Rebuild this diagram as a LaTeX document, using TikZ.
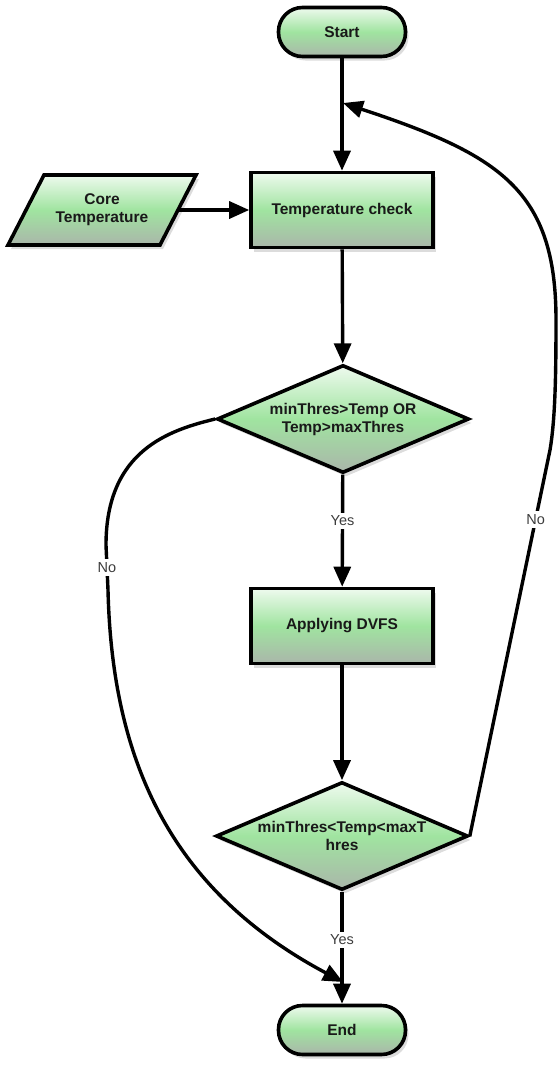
\documentclass[tikz,border=0pt]{standalone}
\usepackage{fontspec}
\setmainfont{Liberation Sans}
\usetikzlibrary{shapes.geometric,arrows.meta,shadows}
\definecolor{shTop}{RGB}{238,250,238}
\definecolor{shMid}{RGB}{160,228,160}
\definecolor{shBot}{RGB}{170,182,170}
\definecolor{ink}{RGB}{25,25,25}
\definecolor{lblink}{RGB}{60,60,60}
\begin{document}
\begin{tikzpicture}[x=1pt,y=-1pt,
  skin/.style={draw=black, line width=3.6pt, top color=shTop, bottom color=shBot, middle color=shMid,
    drop shadow={opacity=0.28, shadow xshift=3pt, shadow yshift=-4pt}},
  txt/.style={text=ink, font=\fontsize{15.5}{18}\selectfont\bfseries, align=center, inner sep=0pt},
  box/.style={skin, txt},
  terminal/.style={box, rectangle, rounded corners=24pt, minimum width=127pt, minimum height=49pt},
  process/.style={box, rectangle, minimum width=182pt, minimum height=75pt},
  decision/.style={box, diamond, aspect=2.3, minimum width=252pt, minimum height=108pt},
  flow/.style={line width=3.4pt, -{Triangle[length=20pt,width=17pt]}},
  lbl/.style={fill=white, text=lblink, font=\fontsize{14.5}{17}\selectfont, inner sep=3pt}
]
\path[use as bounding box] (0,0) rectangle (559,1066);

% input parallelogram, drawn as a plain path under its text node
\path[skin, line join=miter] (44,175) -- (196,175) -- (160,245) -- (8,245) -- cycle;

% nodes
\node[terminal] (start) at (342,32) {Start};
\node[process]  (check) at (342,210) {Temperature check};
\node[txt, minimum width=152pt, minimum height=68pt] (core) at (102,210) {Core\\Temperature};
\node[decision] (d1)    at (343,419) {minThres>Temp OR\\Temp>maxThres};
\node[process]  (dvfs)  at (342,626) {Applying DVFS};
\node[decision] (d2)    at (342,836) {minThres<Temp<maxT\\hres};
\node[terminal] (end)   at (342,1030) {End};

% joins on the main line
\coordinate (j1) at (343,103);
\coordinate (j2) at (343,982);

% main flow
\draw[flow] (start) -- (check);
\draw[flow] (core.east) -- (check.west);
\draw[flow] (check) -- (d1);
\draw[flow] (d1) -- node[lbl, pos=0.41] {Yes} (dvfs);
\draw[flow] (dvfs) -- (d2);
\draw[flow] (d2) -- node[lbl, pos=0.43] {Yes} (end);

% loop back to the check
\draw[flow] (d2.east) -- node[lbl, pos=0.82] {No} (550,450)
  .. controls (555,420) and (556,380) .. (556,320)
  .. controls (556,190) and (500,155) .. (j1);

% skip to the end
\draw[flow] (d1.west) .. controls (170,430) and (106,450) .. (106,545)
  -- node[lbl] {No} (108,590)
  .. controls (112,760) and (170,890) .. (j2);
\end{tikzpicture}
\end{document}
